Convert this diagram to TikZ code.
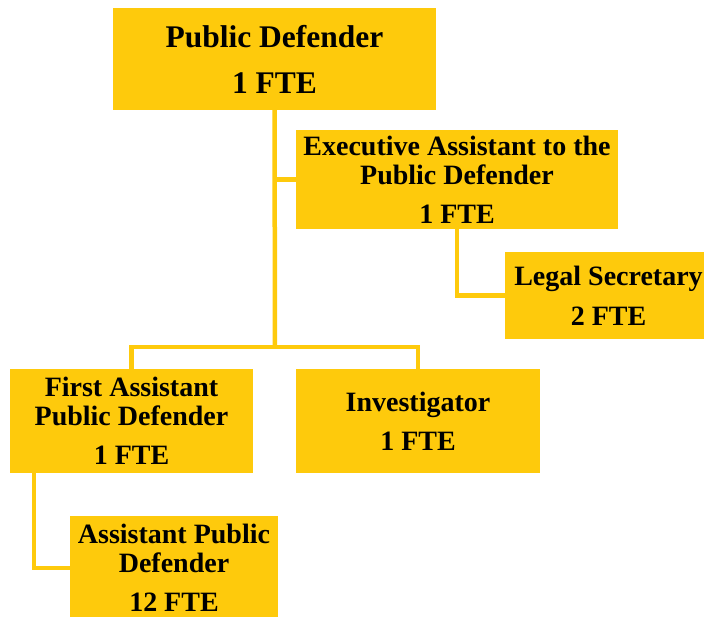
\documentclass[tikz,border=0pt]{standalone}
\usepackage{fontspec}
\setmainfont{Liberation Serif}
\definecolor{gold}{RGB}{254,202,12}
\begin{document}
\begin{tikzpicture} [x=1pt, y={(0pt,-1pt)},
  box/.style={fill=gold, inner sep=0pt, align=center,
    font=\fontsize{28}{29}\selectfont\bfseries},
  link/.style={draw=gold, line width=4.5pt}]
\clip (0,0) rectangle (704,616);
\node [box, minimum width=323, minimum height=102,
  font=\fontsize{31.5}{46}\selectfont\bfseries] (pd) at (274.5,59) {Public Defender\\1 FTE};
\node [box, minimum width=322, minimum height=99] (ea) at (457,179.5) {Executive Assistant to the\\Public Defender\\[10pt]1 FTE};
\node [box, minimum width=207, minimum height=87] (ls) at (608.5,295.5) {Legal Secretary\\[11pt]2 FTE};
\node [box, minimum width=243, minimum height=104] (fa) at (131.5,421) {First Assistant\\Public Defender\\[10pt]1 FTE};
\node [box, minimum width=244, minimum height=104] (inv) at (418,421) {Investigator\\[10pt]1 FTE};
\node [box, minimum width=208, minimum height=104] (apd) at (174,568) {Assistant Public\\Defender\\[10pt]12 FTE};
\coordinate (bus) at (275,347);
\draw [link] (pd.south) -- (bus);
\draw [link] (pd.south |- ea.west) -- (ea.west);
\draw [link] (ea.south) |- (ls.west);
\draw [link] (fa.north) |- (bus) -| (inv.north);
\draw [link] ([xshift=24pt]fa.south west) |- (apd.west);
\end{tikzpicture}
\end{document}
